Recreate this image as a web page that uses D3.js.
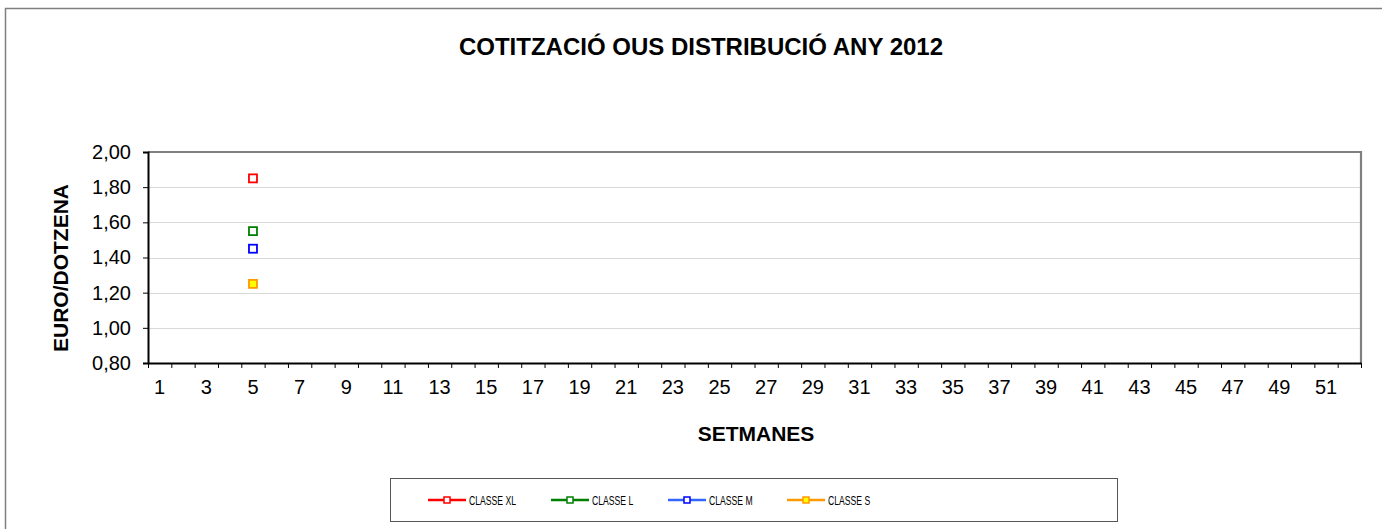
<!DOCTYPE html>
<html>
<head>
<meta charset="utf-8">
<script src="https://cdn.jsdelivr.net/npm/d3@7"></script>
<style>
  html, body { margin: 0; padding: 0; background: #fff; }
  svg { display: block; font-family: "Liberation Sans", Arial, sans-serif; }
</style>
</head>
<body>
<svg id="chart" width="1382" height="529"></svg>
<script>
// Weeks of the year (1..52)
const weeks = [1,2,3,4,5,6,7,8,9,10,11,12,13,14,15,16,17,18,19,20,21,22,23,24,25,26,
               27,28,29,30,31,32,33,34,35,36,37,38,39,40,41,42,43,44,45,46,47,48,49,50,51,52];
// Weeks with quoted prices so far
const quotedWeeks = [5];
// Price per dozen, by egg size class
const classXL = [1.85];
const classL  = [1.55];
const classM  = [1.45];
const classS  = [1.25];
const yTicks = [0.8, 1.0, 1.2, 1.4, 1.6, 1.8, 2.0];
const seriesNames = ["CLASSE XL", "CLASSE L", "CLASSE M", "CLASSE S"];

const series = [
  { name: seriesNames[0], values: classXL, line: "#ff0000", stroke: "#ff0000", fill: "#ffffff" },
  { name: seriesNames[1], values: classL,  line: "#008000", stroke: "#008000", fill: "#ffffff" },
  { name: seriesNames[2], values: classM,  line: "#3366ff", stroke: "#0000ff", fill: "#ffffff" },
  { name: seriesNames[3], values: classS,  line: "#ff9900", stroke: "#ff9900", fill: "#ffff00" }
];

const svg = d3.select("#chart");
const plot = { left: 148, right: 1361, top: 152, bottom: 363 };
const fmt = d3.format(".2f");
const comma = v => fmt(v).replace(".", ",");
const FONT = "Liberation Sans, Arial, sans-serif";

// Outer chart frame
svg.append("rect")
  .attr("x", 5.5).attr("y", 8.5).attr("width", 1500).attr("height", 600)
  .attr("fill", "none").attr("stroke", "#7f7f7f").attr("stroke-width", 1.5);

// Title
svg.append("text")
  .attr("x", 701).attr("y", 55)
  .attr("text-anchor", "middle")
  .attr("font-size", 24).attr("font-weight", "bold")
  .text("COTITZACIÓ OUS DISTRIBUCIÓ ANY 2012");

const x = d3.scaleBand().domain(weeks).range([plot.left, plot.right]).padding(0);
const xEdge = d3.scaleLinear().domain([0, weeks.length]).range([plot.left, plot.right]);
const y = d3.scaleLinear().domain([0.8, 2.0]).range([plot.bottom, plot.top]);

// Horizontal gridlines
svg.append("g").selectAll("line")
  .data(yTicks.filter(v => v > 0.8 && v < 2.0))
  .join("line")
  .attr("x1", plot.left).attr("x2", plot.right)
  .attr("y1", d => Math.round(y(d)) + 0.5).attr("y2", d => Math.round(y(d)) + 0.5)
  .attr("stroke", "#d9d9d9").attr("stroke-width", 1);

// Top and right plot border (gray)
svg.append("path")
  .attr("d", `M${plot.left},${plot.top}H${plot.right}V${plot.bottom}`)
  .attr("fill", "none").attr("stroke", "#808080").attr("stroke-width", 2.2);

// Y axis
const yAxis = svg.append("g")
  .attr("transform", `translate(${plot.left},0)`)
  .call(d3.axisLeft(y).tickValues(yTicks).tickFormat(comma).tickSize(5).tickPadding(12));
yAxis.select(".domain").attr("stroke", "#000").attr("stroke-width", 2);
yAxis.selectAll(".tick line").attr("stroke", "#000");
yAxis.selectAll("text").attr("font-size", 20).attr("fill", "#000").attr("font-family", FONT);

// X axis: ticks at category boundaries
const xTicks = svg.append("g")
  .attr("transform", `translate(0,${plot.bottom})`)
  .call(d3.axisBottom(xEdge).tickValues(d3.range(weeks.length + 1)).tickFormat("").tickSize(5).tickSizeOuter(0));
xTicks.select(".domain").attr("stroke", "#000").attr("stroke-width", 2);
xTicks.selectAll(".tick line").attr("stroke", "#000");

// X labels on every other week
const xLabels = svg.append("g")
  .attr("transform", `translate(0,${plot.bottom})`)
  .call(d3.axisBottom(x).tickValues(weeks.filter(w => w % 2 === 1)).tickSize(0).tickPadding(17));
xLabels.select(".domain").remove();
xLabels.selectAll("text").attr("font-size", 20).attr("fill", "#000").attr("font-family", FONT);

// Axis titles
svg.append("text")
  .attr("transform", `translate(68,268) rotate(-90)`)
  .attr("text-anchor", "middle")
  .attr("font-size", 21).attr("font-weight", "bold")
  .text("EURO/DOTZENA");
svg.append("text")
  .attr("x", 756).attr("y", 441)
  .attr("text-anchor", "middle")
  .attr("font-size", 21).attr("font-weight", "bold")
  .text("SETMANES");

// Series lines and markers
const line = d3.line()
  .defined(d => d.v != null)
  .x(d => x(d.w) + x.bandwidth() / 2)
  .y(d => y(d.v));

series.forEach(s => {
  const pts = quotedWeeks.map((w, i) => ({ w, v: s.values[i] }));
  svg.append("path").datum(pts)
    .attr("d", line).attr("fill", "none")
    .attr("stroke", s.line).attr("stroke-width", 2.5);
  svg.append("g").selectAll("rect").data(pts.filter(d => d.v != null)).join("rect")
    .attr("x", d => x(d.w) + x.bandwidth() / 2 - 4)
    .attr("y", d => y(d.v) - 4)
    .attr("width", 8).attr("height", 8)
    .attr("fill", s.fill).attr("stroke", s.stroke).attr("stroke-width", 1.8);
});

// Legend
const legend = svg.append("g");
legend.append("rect")
  .attr("x", 390.5).attr("y", 478.5).attr("width", 727).attr("height", 43)
  .attr("fill", "#fff").attr("stroke", "#555").attr("stroke-width", 1);
const legendX = [428, 551, 668, 787];
series.forEach((s, i) => {
  const g = legend.append("g").attr("transform", `translate(${legendX[i]},500)`);
  g.append("line").attr("x1", 0).attr("x2", 38).attr("y1", 0).attr("y2", 0)
    .attr("stroke", s.line).attr("stroke-width", 2.5);
  g.append("rect").attr("x", 16).attr("y", -3).attr("width", 6).attr("height", 6)
    .attr("fill", s.fill).attr("stroke", s.stroke).attr("stroke-width", 1.5);
  // condensed label text
  g.append("text")
    .attr("transform", "translate(41,4.5) scale(0.72,1)")
    .attr("font-size", 12).attr("fill", "#000")
    .text(s.name);
});
</script>
</body>
</html>
